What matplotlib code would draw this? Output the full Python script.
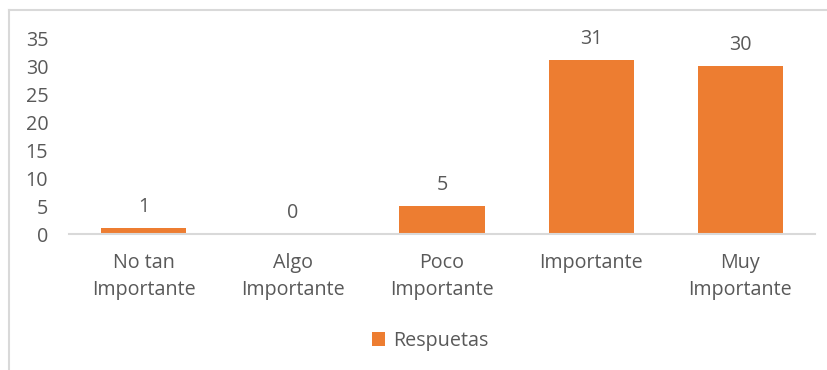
import matplotlib
matplotlib.use("Agg")
import matplotlib.pyplot as plt
from matplotlib.lines import Line2D
from matplotlib.patches import Patch

categories = ["No tan\nImportante", "Algo\nImportante", "Poco\nImportante", "Importante", "Muy\nImportante"]
values = [1, 0, 5, 31, 30]
yticks = [0, 5, 10, 15, 20, 25, 30, 35]
series_name = "Respuetas"

bar_color = "#ED7D31"
text_color = "#595959"
line_color = "#D9D9D9"

plt.rcParams['font.family'] = ['Open Sans', 'DejaVu Sans']
fs = 14.2

fig = plt.figure(figsize=(8.28, 3.70), dpi=100)
ax = fig.add_axes([69/828, 1-234/370, (815-69)/828, (234-38)/370])

x = list(range(len(categories)))
bars = ax.bar(x, values, width=0.57, color=bar_color, zorder=2)
for xi, v in zip(x, values):
    ax.annotate(str(v), (xi, v), xytext=(0, 11), textcoords="offset pixels",
                ha="center", va="bottom", fontsize=fs, color=text_color)

ax.set_xlim(-0.5, len(categories)-0.5)
ax.set_ylim(0, 35)
ax.set_yticks(yticks)
ax.set_xticks(x)
ax.set_xticklabels(categories, linespacing=1.45)
ax.tick_params(axis='both', length=0, colors=text_color, labelsize=fs)
ax.tick_params(axis='y', pad=15)
ax.tick_params(axis='x', pad=14)
for s in ["top", "right", "left"]:
    ax.spines[s].set_visible(False)
ax.spines["bottom"].set_color(line_color)
ax.spines["bottom"].set_linewidth(1.5)
ax.patch.set_alpha(0)

handle = Patch(facecolor=bar_color, edgecolor="none")
fig.legend([handle], [series_name], loc="center", bbox_to_anchor=(430/828, 1-341/370),
           frameon=False, fontsize=fs, labelcolor=text_color,
           handlelength=0.65, handleheight=0.65, handletextpad=0.4)

# outer chart frame (left and top edges visible)
fig.add_artist(Line2D([9/828, 9/828], [0, 1-10/370], color=line_color, lw=1.5))
fig.add_artist(Line2D([9/828, 1], [1-10/370, 1-10/370], color=line_color, lw=1.5))

fig.savefig("out.png", dpi=100)
